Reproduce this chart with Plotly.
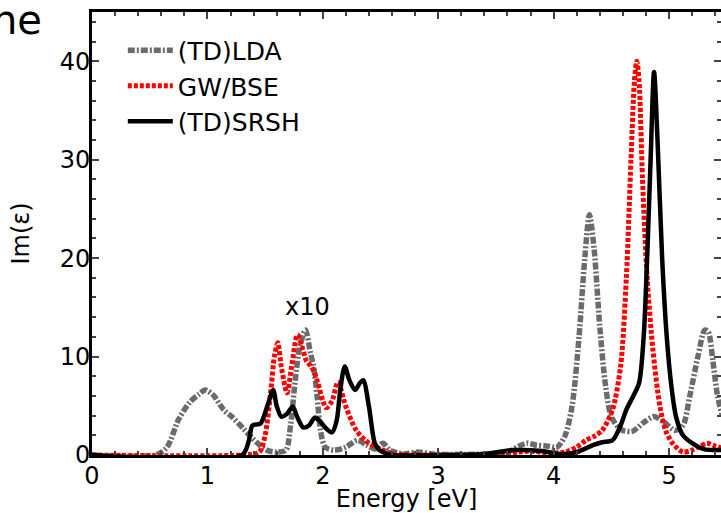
import plotly.graph_objects as go

# (TD)LDA
lda_e = [0, 0.55, 0.65, 0.75, 0.85, 0.93, 0.98, 1.05, 1.14, 1.22, 1.31, 1.39, 1.51, 1.6, 1.68, 1.72, 1.76, 1.80, 1.85, 1.89, 1.92, 1.95, 1.98, 2.02, 2.1, 2.2, 2.3, 2.38, 2.45, 2.52, 2.58, 2.7, 2.82, 2.95, 3.1, 3.4, 3.6, 3.7, 3.77, 3.85, 3.95, 4.03, 4.1, 4.16, 4.22, 4.27, 4.31, 4.35, 4.40, 4.45, 4.50, 4.58, 4.68, 4.78, 4.87, 4.95, 5.05, 5.12, 5.18, 5.25, 5.31, 5.34, 5.38, 5.42, 5.46]
lda_v = [0, 0, 0.8, 3.6, 5.4, 6.2, 6.6, 6.1, 4.6, 3.8, 2.7, 1.7, 0.5, 0.3, 0.5, 3, 7.5, 11, 12.7, 10.5, 9, 6, 2.5, 0.8, 0.5, 0.8, 1.5, 1.0, 0.6, 1.2, 0.5, 0.1, 0.3, 0.1, 0.05, 0.1, 0.3, 0.9, 1.2, 1.0, 0.9, 0.8, 2, 5, 12, 20, 24.4, 21, 13, 7, 3.9, 2.6, 2.4, 3.3, 3.9, 3.4, 2.5, 3, 6, 10, 12.7, 12.5, 9.5, 6, 4]

# GW/BSE
gw_e = [0, 1.3, 1.45, 1.5, 1.55, 1.58, 1.61, 1.64, 1.69, 1.73, 1.78, 1.82, 1.86, 1.9, 1.95, 2.0, 2.03, 2.08, 2.13, 2.2, 2.29, 2.4, 2.5, 2.58, 2.7, 3.0, 3.5, 3.7, 3.8, 3.95, 4.1, 4.2, 4.28, 4.35, 4.42, 4.51, 4.58, 4.63, 4.67, 4.70, 4.72, 4.74, 4.77, 4.81, 4.86, 4.92, 4.97, 5.03, 5.12, 5.2, 5.27, 5.33, 5.4, 5.46]
gw_v = [0, 0, 0.3, 2, 6.6, 10, 11.4, 9, 6.3, 9, 12.2, 11, 9.5, 9, 7.6, 5.5, 4.8, 5.5, 7.4, 4.9, 2.5, 1.2, 0.6, 0.2, 0.05, 0, 0, 0.3, 0.4, 0.2, 0.3, 0.8, 1.5, 1.9, 2.5, 4.6, 9, 18, 30, 38, 40, 38, 28, 18, 10.7, 5, 2.5, 1.2, 0.3, 0.5, 0.9, 1.2, 0.9, 0.7]

# (TD)SRSH
srsh_e = [0, 1.3, 1.36, 1.39, 1.46, 1.52, 1.57, 1.60, 1.64, 1.69, 1.74, 1.78, 1.83, 1.88, 1.93, 1.97, 2.02, 2.08, 2.12, 2.15, 2.19, 2.23, 2.28, 2.32, 2.35, 2.40, 2.45, 2.49, 2.54, 2.6, 3.0, 3.4, 3.65, 3.9, 4.05, 4.2, 4.34, 4.42, 4.51, 4.58, 4.63, 4.69, 4.74, 4.78, 4.81, 4.84, 4.87, 4.90, 4.94, 4.98, 5.02, 5.06, 5.12, 5.2, 5.3, 5.46]
srsh_v = [0, 0, 1.5, 3.0, 3.2, 5, 6.6, 5, 3.9, 4.2, 4.9, 3.8, 2.8, 3.0, 3.8, 3.5, 2.8, 2.3, 3.5, 6.5, 9.0, 7.6, 6.6, 7.3, 7.6, 4.9, 1.2, 0.5, 0.2, 0, 0, 0.1, 0.5, 0.4, 0.1, 0.3, 1.0, 1.3, 1.5, 3, 4.6, 6, 7.3, 12, 20, 30, 38.9, 32, 20, 12, 7, 3.9, 2, 1.2, 0.6, 0.5]

x_ticks = [0, 1, 2, 3, 4, 5]
y_ticks = [0, 10, 20, 30, 40]

FONT = "DejaVu Sans"

fig = go.Figure()
fig.add_trace(go.Scatter(x=lda_e, y=lda_v, mode="lines", name="(TD)LDA",
                         line=dict(color="#6b6b6b", width=5.5, dash="7px,2px,2px,2px",
                                   shape="spline", smoothing=0.8)))
fig.add_trace(go.Scatter(x=gw_e, y=gw_v, mode="lines", name="GW/BSE",
                         line=dict(color="#ff0000", width=5, dash="4px,2px",
                                   shape="spline", smoothing=0.8)))
fig.add_trace(go.Scatter(x=srsh_e, y=srsh_v, mode="lines", name="(TD)SRSH",
                         line=dict(color="#000000", width=4.5,
                                   shape="spline", smoothing=0.8)))

fig.add_annotation(x=1.87, y=15.0, xref="x", yref="y", text="x10", showarrow=False,
                   font=dict(family=FONT, size=24, color="black"))
fig.add_annotation(x=(44 - 92) / 629, y=(455 - 20) / 443, xref="paper", yref="paper",
                   text="ne", showarrow=False, xanchor="right", yanchor="middle",
                   font=dict(family=FONT, size=40, color="black"))

fig.update_layout(
    width=721, height=513,
    margin=dict(l=92, r=0, t=12, b=58, autoexpand=False),
    paper_bgcolor="white", plot_bgcolor="white",
    font=dict(family=FONT, size=24, color="black"),
    showlegend=True,
    legend=dict(x=0.049, y=0.965, xanchor="left", yanchor="top",
                bgcolor="rgba(0,0,0,0)", font=dict(family=FONT, size=25),
                itemwidth=45),
)
fig.update_xaxes(range=[0, 5.45], tickvals=x_ticks, ticks="inside", ticklen=7, tickwidth=2,
                 showline=True, linewidth=3, linecolor="black", mirror="ticks",
                 showgrid=False, zeroline=False, automargin=False, ticklabelstandoff=-3,
                 minor=dict(dtick=0.2, tick0=0, ticks="inside", ticklen=4, tickwidth=2),
                 title=dict(text="Energy [eV]", standoff=0, font=dict(size=24)),
                 tickfont=dict(size=24))
fig.update_yaxes(range=[0, 45], tickvals=y_ticks, ticks="inside", ticklen=7, tickwidth=2,
                 showline=True, linewidth=3, linecolor="black", mirror="ticks",
                 showgrid=False, zeroline=False, automargin=False, ticklabelstandoff=-6,
                 minor=dict(dtick=2, tick0=0, ticks="inside", ticklen=4, tickwidth=2),
                 title=dict(text="Im(ε)", standoff=24, font=dict(size=24)),
                 tickfont=dict(size=24))

fig.write_html("out.html", config={"displayModeBar": False},
               post_script="document.body.style.margin='0';")
